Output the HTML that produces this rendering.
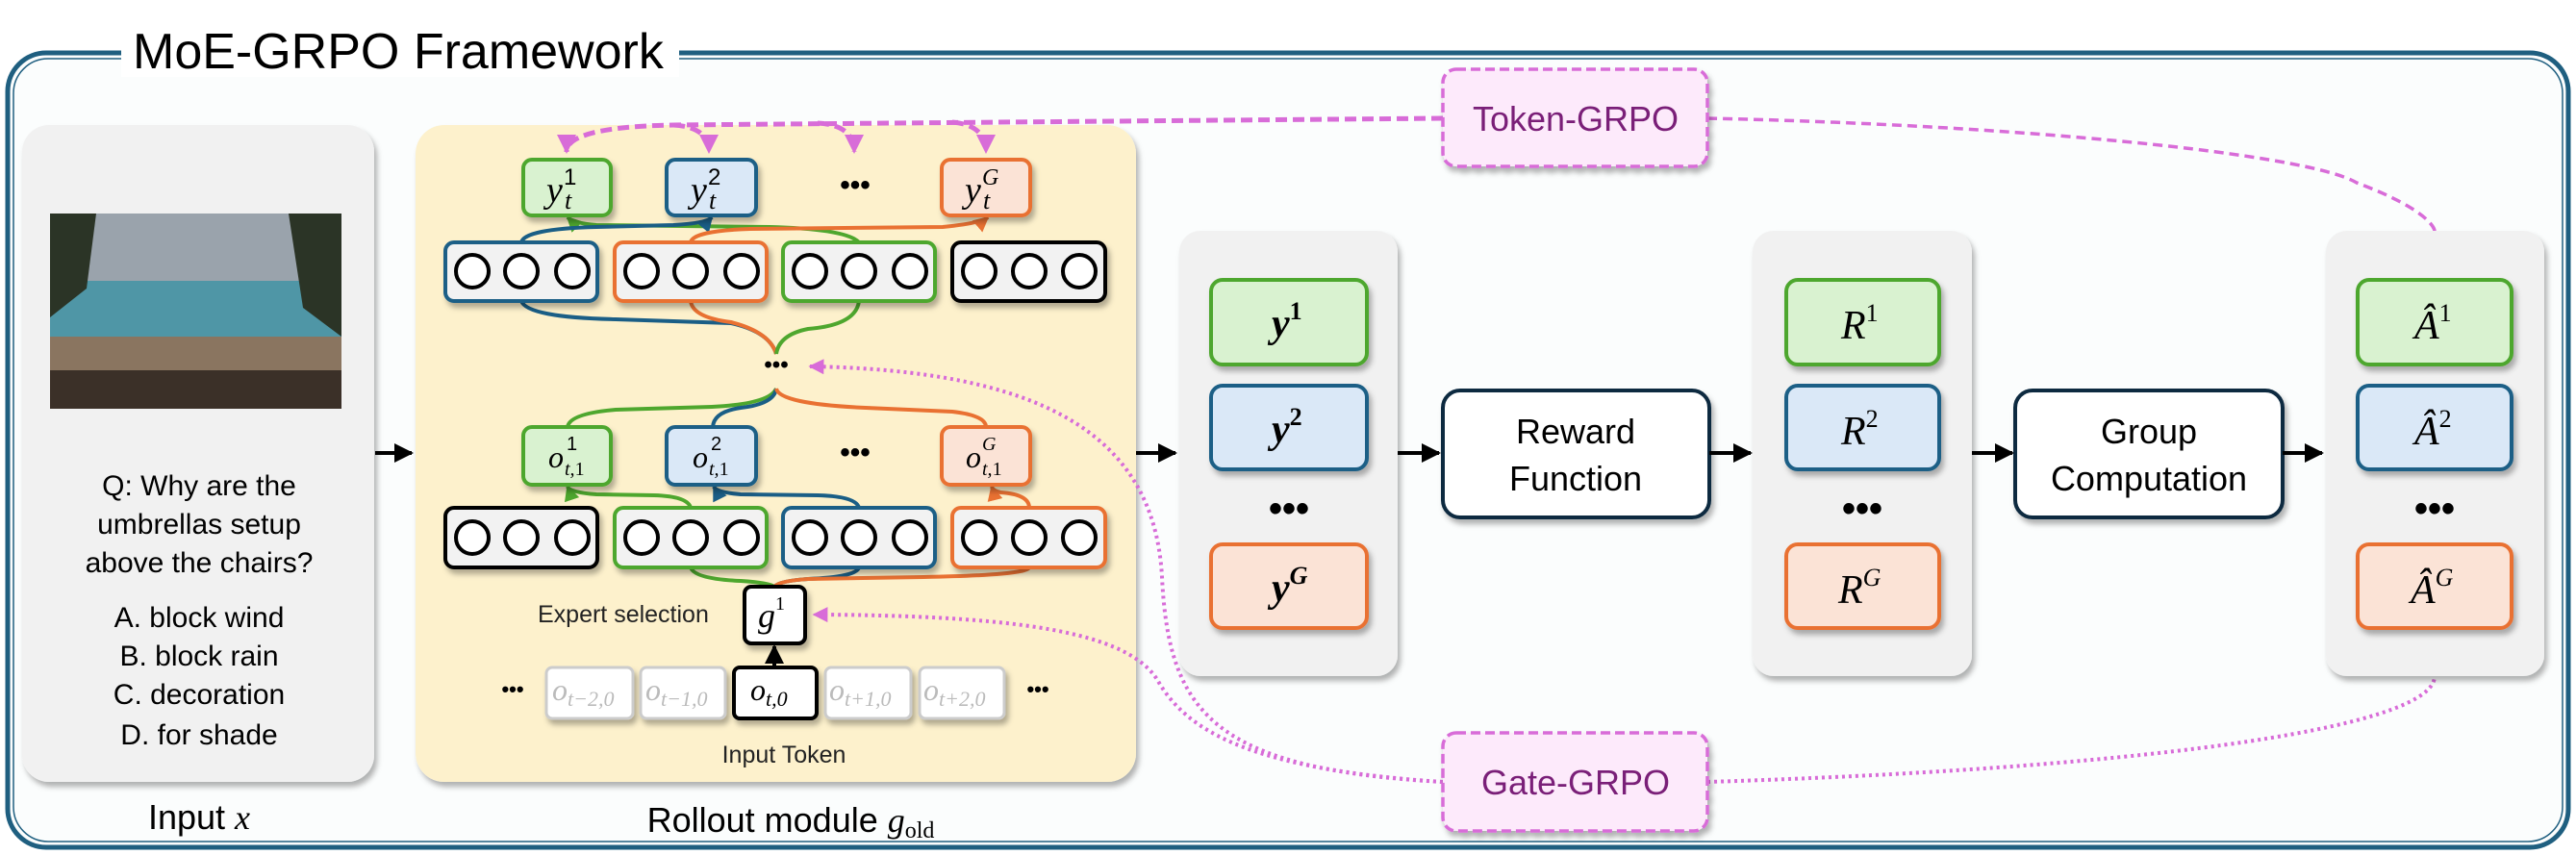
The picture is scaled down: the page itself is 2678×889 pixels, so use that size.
<!DOCTYPE html>
<html><head><meta charset="utf-8"><style>
html,body{margin:0;padding:0;background:#fff;}
svg{display:block;}
text{font-family:"Liberation Sans",sans-serif;}
.m{font-family:"Liberation Serif",serif;font-style:italic;}
</style></head><body>
<svg width="2678" height="889" viewBox="0 0 2678 889" xmlns="http://www.w3.org/2000/svg">
<defs>
<filter id="sh" x="-20%" y="-20%" width="140%" height="150%"><feDropShadow dx="3" dy="5" stdDeviation="3" flood-color="#000" flood-opacity="0.3"/></filter>
<marker id="ak" viewBox="0 0 10 10" refX="9" refY="5" markerWidth="5" markerHeight="5" orient="auto"><path d="M0,0L10,5L0,10z" fill="#000"/></marker>
<marker id="ap" viewBox="0 0 10 10" refX="9" refY="5" markerWidth="4" markerHeight="4" orient="auto"><path d="M0,0L10,5L0,10z" fill="#d86cd8"/></marker>
<marker id="ag" viewBox="0 0 10 10" refX="9" refY="5" markerWidth="4" markerHeight="4" orient="auto"><path d="M0,0L10,5L0,10z" fill="#4ea72e"/></marker>
<marker id="ab" viewBox="0 0 10 10" refX="9" refY="5" markerWidth="4" markerHeight="4" orient="auto"><path d="M0,0L10,5L0,10z" fill="#1a5e86"/></marker>
<marker id="ao" viewBox="0 0 10 10" refX="9" refY="5" markerWidth="4" markerHeight="4" orient="auto"><path d="M0,0L10,5L0,10z" fill="#e97132"/></marker>
</defs>
<!-- outer frame -->
<rect x="8" y="55" width="2662" height="826" rx="40" fill="#fbfdfd" stroke="#1f5f80" stroke-width="5"/>
<rect x="14" y="61" width="2650" height="814" rx="36" fill="none" stroke="#1f5f80" stroke-width="1.5"/>
<rect x="126" y="30" width="580" height="50" fill="#fff"/>
<text x="138" y="71" font-size="52" fill="#000">MoE-GRPO Framework</text>

<!-- input panel -->
<rect x="23" y="130" width="366" height="683" rx="28" fill="#f1f1f1" filter="url(#sh)"/>
<rect x="52" y="222" width="303" height="203" fill="#6f8ea0"/>
<rect x="52" y="222" width="303" height="70" fill="#9aa3ac"/>
<rect x="52" y="292" width="303" height="60" fill="#4f96a6"/>
<rect x="52" y="350" width="303" height="75" fill="#8a7560"/>
<rect x="52" y="385" width="303" height="40" fill="#3b3028"/>
<path d="M52,222 L100,222 L90,300 L52,330z" fill="#2b3426"/>
<path d="M355,222 L300,222 L315,320 L355,350z" fill="#2b3426"/>
<g font-size="30" text-anchor="middle" fill="#000">
<text x="207" y="515">Q: Why are the</text>
<text x="207" y="555">umbrellas setup</text>
<text x="207" y="595">above the chairs?</text>
<text x="207" y="652">A.  block wind</text>
<text x="207" y="692">B.  block rain</text>
<text x="207" y="732">C.  decoration</text>
<text x="207" y="774">D.  for shade</text>
<text x="207" y="862" font-size="36">Input <tspan class="m">x</tspan></text>
<text x="822" y="865" font-size="36">Rollout module <tspan class="m">g</tspan><tspan font-size="24" dy="6" font-family="Liberation Serif">old</tspan></text>
</g>
<line x1="390" y1="471" x2="428" y2="471" stroke="#000" stroke-width="4" marker-end="url(#ak)"/>

<!-- rollout panel -->
<rect x="432" y="130" width="749" height="683" rx="30" fill="#fdf1cc" filter="url(#sh)"/>

<!-- pink dashed top -->
<g fill="none" stroke="#d86cd8" stroke-width="5" stroke-dasharray="12,6">
<path d="M1500,123 L700,130 Q589,132 589,158" marker-end="url(#ap)"/>
<path d="M700,130 Q737,132 737,158" marker-end="url(#ap)"/>
<path d="M850,128 Q888,130 888,158" marker-end="url(#ap)"/>
<path d="M990,127 Q1025,130 1025,158" marker-end="url(#ap)"/>
<path d="M1775,123 C2100,130 2400,160 2450,190 C2530,220 2531,240 2531,240" stroke-width="3.5" stroke-dasharray="10,6"/>
</g>
<g fill="none" stroke="#d86cd8" stroke-width="4" stroke-dasharray="3,4">
<path d="M1500,813 C1260,800 1215,740 1208,600 C1200,450 1080,385 842,381" marker-end="url(#ap)"/>
<path d="M1500,813 C1300,800 1235,760 1205,710 C1175,655 1050,640 846,639" marker-end="url(#ap)"/>
<path d="M1775,813 C2200,800 2531,760 2531,703"/>
</g>

<!-- connectors -->
<g fill="none" stroke-width="4">
<path d="M893,252 Q880,238 800,236 L620,234 Q596,232 590,226" stroke="#4ea72e" marker-end="url(#ag)"/>
<path d="M542,252 Q545,238 620,236 L700,234 Q735,232 740,226" stroke="#1a5e86" marker-end="url(#ab)"/>
<path d="M718,252 Q720,240 780,238 L980,236 Q1020,232 1027,226" stroke="#e97132" marker-end="url(#ao)"/>
<path d="M542,313 Q548,330 640,332 L760,336 Q800,345 807,368" stroke="#1a5e86"/>
<path d="M718,313 Q720,330 760,335 Q800,345 807,368" stroke="#e97132"/>
<path d="M893,313 Q890,338 840,342 Q810,348 807,368" stroke="#4ea72e"/>
<path d="M807,404 Q800,420 740,423 L640,426 Q592,430 590,444" stroke="#4ea72e"/>
<path d="M807,404 Q805,420 770,424 Q742,428 741,444" stroke="#1a5e86"/>
<path d="M807,404 Q810,420 900,424 L990,428 Q1025,432 1025,444" stroke="#e97132"/>
<path d="M718,528 Q715,516 680,515 L620,514 Q592,512 590,506" stroke="#4ea72e" marker-end="url(#ag)"/>
<path d="M893,528 Q890,516 850,515 L770,514 Q745,512 742,506" stroke="#1a5e86" marker-end="url(#ab)"/>
<path d="M1070,528 Q1070,514 1040,512 Q1032,510 1031,506" stroke="#e97132" marker-end="url(#ao)"/>
<path d="M718,590 Q722,602 770,604 Q800,606 805,610" stroke="#4ea72e"/>
<path d="M893,590 Q890,600 840,602 Q810,604 805,610" stroke="#1a5e86"/>
<path d="M1070,590 Q1068,598 960,600 L840,602 Q810,604 805,610" stroke="#e97132"/>
</g>
<line x1="805" y1="694" x2="805" y2="672" stroke="#000" stroke-width="4" marker-end="url(#ak)"/>

<!-- y_t boxes -->
<g filter="url(#sh)" stroke-width="4">
<rect x="544" y="166" width="91" height="58" rx="9" fill="#d9f2d0" stroke="#4ea72e"/>
<rect x="693" y="166" width="93" height="58" rx="9" fill="#dae8f7" stroke="#1a5e86"/>
<rect x="979" y="166" width="92" height="58" rx="9" fill="#fbe3d6" stroke="#e97132"/>
<rect x="544" y="444" width="91" height="60" rx="9" fill="#d9f2d0" stroke="#4ea72e"/>
<rect x="693" y="444" width="93" height="60" rx="9" fill="#dae8f7" stroke="#1a5e86"/>
<rect x="979" y="444" width="92" height="60" rx="9" fill="#fbe3d6" stroke="#e97132"/>
</g>
<g fill="#000">
<text x="568" y="210" class="m" font-size="38">y</text><text x="587" y="217" class="m" font-size="26">t</text><text x="586" y="192" font-family="Liberation Serif" font-size="24">1</text>
<text x="718" y="210" class="m" font-size="38">y</text><text x="737" y="217" class="m" font-size="26">t</text><text x="736" y="192" font-family="Liberation Serif" font-size="24">2</text>
<text x="1003" y="210" class="m" font-size="38">y</text><text x="1022" y="217" class="m" font-size="26">t</text><text x="1021" y="192" class="m" font-size="24">G</text>
<text x="570" y="486" class="m" font-size="32">o</text><text x="587" y="494" class="m" font-size="20">t,<tspan font-style="normal">1</tspan></text><text x="589" y="468" font-family="Liberation Serif" font-size="20">1</text>
<text x="720" y="486" class="m" font-size="32">o</text><text x="737" y="494" class="m" font-size="20">t,<tspan font-style="normal">1</tspan></text><text x="739" y="468" font-family="Liberation Serif" font-size="20">2</text>
<text x="1004" y="486" class="m" font-size="32">o</text><text x="1021" y="494" class="m" font-size="20">t,<tspan font-style="normal">1</tspan></text><text x="1021" y="468" class="m" font-size="20">G</text>
</g>
<g font-size="30" font-weight="bold" fill="#000" text-anchor="middle">
<text x="889" y="202">•••</text><text x="889" y="480">•••</text>
<text x="807" y="387" font-size="24">•••</text>
<text x="533" y="724" font-size="22">•••</text><text x="1079" y="724" font-size="22">•••</text>
</g>

<!-- expert rows -->
<g stroke-width="4" filter="url(#sh)" fill="#f2f2f2">
<rect x="463" y="252" width="158" height="61" rx="9" stroke="#1a5e86"/>
<rect x="639" y="252" width="158" height="61" rx="9" stroke="#e97132"/>
<rect x="814" y="252" width="158" height="61" rx="9" stroke="#4ea72e"/>
<rect x="990" y="252" width="159" height="61" rx="9" stroke="#000"/>
<rect x="463" y="528" width="158" height="62" rx="9" stroke="#000"/>
<rect x="639" y="528" width="158" height="62" rx="9" stroke="#4ea72e"/>
<rect x="814" y="528" width="158" height="62" rx="9" stroke="#1a5e86"/>
<rect x="990" y="528" width="159" height="62" rx="9" stroke="#e97132"/>
</g>
<g fill="#fff" stroke="#000" stroke-width="4">
<circle cx="491" cy="282" r="17"/><circle cx="542" cy="282" r="17"/><circle cx="595" cy="282" r="17"/>
<circle cx="667" cy="282" r="17"/><circle cx="718" cy="282" r="17"/><circle cx="771" cy="282" r="17"/>
<circle cx="842" cy="282" r="17"/><circle cx="893" cy="282" r="17"/><circle cx="946" cy="282" r="17"/>
<circle cx="1018" cy="282" r="17"/><circle cx="1070" cy="282" r="17"/><circle cx="1122" cy="282" r="17"/>
<circle cx="491" cy="559" r="17"/><circle cx="542" cy="559" r="17"/><circle cx="595" cy="559" r="17"/>
<circle cx="667" cy="559" r="17"/><circle cx="718" cy="559" r="17"/><circle cx="771" cy="559" r="17"/>
<circle cx="842" cy="559" r="17"/><circle cx="893" cy="559" r="17"/><circle cx="946" cy="559" r="17"/>
<circle cx="1018" cy="559" r="17"/><circle cx="1070" cy="559" r="17"/><circle cx="1122" cy="559" r="17"/>
</g>

<!-- g1 and tokens -->
<rect x="774" y="610" width="63" height="59" rx="7" fill="#fff" stroke="#000" stroke-width="4" filter="url(#sh)"/>
<text x="788" y="652" class="m" font-size="36">g<tspan font-size="20" dy="-18" font-style="normal">1</tspan></text>
<text x="559" y="647" font-size="25" fill="#222">Expert selection</text>
<g filter="url(#sh)" fill="#fff" stroke-width="3">
<rect x="568" y="694" width="90" height="53" rx="6" stroke="#ccc"/>
<rect x="666" y="694" width="88" height="53" rx="6" stroke="#ccc"/>
<rect x="763" y="694" width="86" height="53" rx="6" stroke="#000" stroke-width="4"/>
<rect x="858" y="694" width="89" height="53" rx="6" stroke="#ccc"/>
<rect x="956" y="694" width="88" height="53" rx="6" stroke="#ccc"/>
</g>
<g class="m" font-size="32" fill="#bbb">
<text x="574" y="728" class="m">o<tspan font-size="22" dy="6">t−2,0</tspan></text>
<text x="671" y="728" class="m">o<tspan font-size="22" dy="6">t−1,0</tspan></text>
<text x="780" y="728" class="m" fill="#000">o<tspan font-size="22" dy="6">t,0</tspan></text>
<text x="862" y="728" class="m">o<tspan font-size="22" dy="6">t+1,0</tspan></text>
<text x="960" y="728" class="m">o<tspan font-size="22" dy="6">t+2,0</tspan></text>
</g>
<text x="815" y="793" font-size="25" text-anchor="middle" fill="#222">Input Token</text>
<line x1="1181" y1="471" x2="1222" y2="471" stroke="#000" stroke-width="4" marker-end="url(#ak)"/>

<!-- panels -->
<rect x="1226" y="240" width="227" height="463" rx="22" fill="#f1f1f1" filter="url(#sh)"/>
<rect x="1822" y="240" width="228" height="463" rx="22" fill="#f1f1f1" filter="url(#sh)"/>
<rect x="2418" y="240" width="227" height="463" rx="22" fill="#f1f1f1" filter="url(#sh)"/>
<g stroke-width="4" filter="url(#sh)">
<rect x="1259" y="291" width="162" height="88" rx="12" fill="#d9f2d0" stroke="#4ea72e"/>
<rect x="1259" y="401" width="162" height="87" rx="12" fill="#dae8f7" stroke="#1a5e86"/>
<rect x="1259" y="566" width="162" height="87" rx="12" fill="#fbe3d6" stroke="#e97132"/>
<rect x="1857" y="291" width="159" height="88" rx="12" fill="#d9f2d0" stroke="#4ea72e"/>
<rect x="1857" y="401" width="159" height="87" rx="12" fill="#dae8f7" stroke="#1a5e86"/>
<rect x="1857" y="566" width="159" height="87" rx="12" fill="#fbe3d6" stroke="#e97132"/>
<rect x="2451" y="291" width="160" height="88" rx="12" fill="#d9f2d0" stroke="#4ea72e"/>
<rect x="2451" y="401" width="160" height="87" rx="12" fill="#dae8f7" stroke="#1a5e86"/>
<rect x="2451" y="566" width="160" height="87" rx="12" fill="#fbe3d6" stroke="#e97132"/>
<rect x="1500" y="406" width="277" height="132" rx="18" fill="#fff" stroke="#0f2a40"/>
<rect x="2095" y="406" width="278" height="132" rx="18" fill="#fff" stroke="#0f2a40"/>
</g>
<g font-size="42" fill="#000">
<text x="1322" y="350" font-weight="bold" class="m">y<tspan font-size="26" dy="-18" font-style="normal">1</tspan></text>
<text x="1322" y="460" font-weight="bold" class="m">y<tspan font-size="26" dy="-18" font-style="normal">2</tspan></text>
<text x="1322" y="625" font-weight="bold" class="m">y<tspan font-size="26" dy="-18">G</tspan></text>
<text x="1914" y="352" class="m">R<tspan font-size="26" dy="-18" font-style="normal">1</tspan></text>
<text x="1914" y="462" class="m">R<tspan font-size="26" dy="-18" font-style="normal">2</tspan></text>
<text x="1911" y="627" class="m">R<tspan font-size="26" dy="-18">G</tspan></text>
<text x="2510" y="352" class="m">Â<tspan font-size="26" dy="-18" font-style="normal">1</tspan></text>
<text x="2510" y="462" class="m">Â<tspan font-size="26" dy="-18" font-style="normal">2</tspan></text>
<text x="2506" y="627" class="m">Â<tspan font-size="26" dy="-18">G</tspan></text>
</g>
<g font-size="40" font-weight="bold" text-anchor="middle">
<text x="1340" y="542">•••</text><text x="1936" y="542">•••</text><text x="2531" y="542">•••</text>
</g>
<g font-size="36" text-anchor="middle" fill="#000">
<text x="1638" y="461">Reward</text><text x="1638" y="510">Function</text>
<text x="2234" y="461">Group</text><text x="2234" y="510">Computation</text>
</g>
<g stroke="#000" stroke-width="4">
<line x1="1453" y1="471" x2="1496" y2="471" marker-end="url(#ak)"/>
<line x1="1777" y1="471" x2="1820" y2="471" marker-end="url(#ak)"/>
<line x1="2050" y1="471" x2="2092" y2="471" marker-end="url(#ak)"/>
<line x1="2373" y1="471" x2="2414" y2="471" marker-end="url(#ak)"/>
</g>

<!-- GRPO boxes -->
<g filter="url(#sh)">
<rect x="1500" y="72" width="275" height="101" rx="14" fill="#fdeafb" stroke="#d86cd8" stroke-width="3.5" stroke-dasharray="10,5"/>
<rect x="1500" y="762" width="275" height="102" rx="14" fill="#fdeafb" stroke="#d86cd8" stroke-width="3.5" stroke-dasharray="10,5"/>
</g>
<text x="1638" y="136" font-size="36" text-anchor="middle" fill="#7a1f78">Token-GRPO</text>
<text x="1638" y="826" font-size="36" text-anchor="middle" fill="#7a1f78">Gate-GRPO</text>
</svg>
</body></html>
